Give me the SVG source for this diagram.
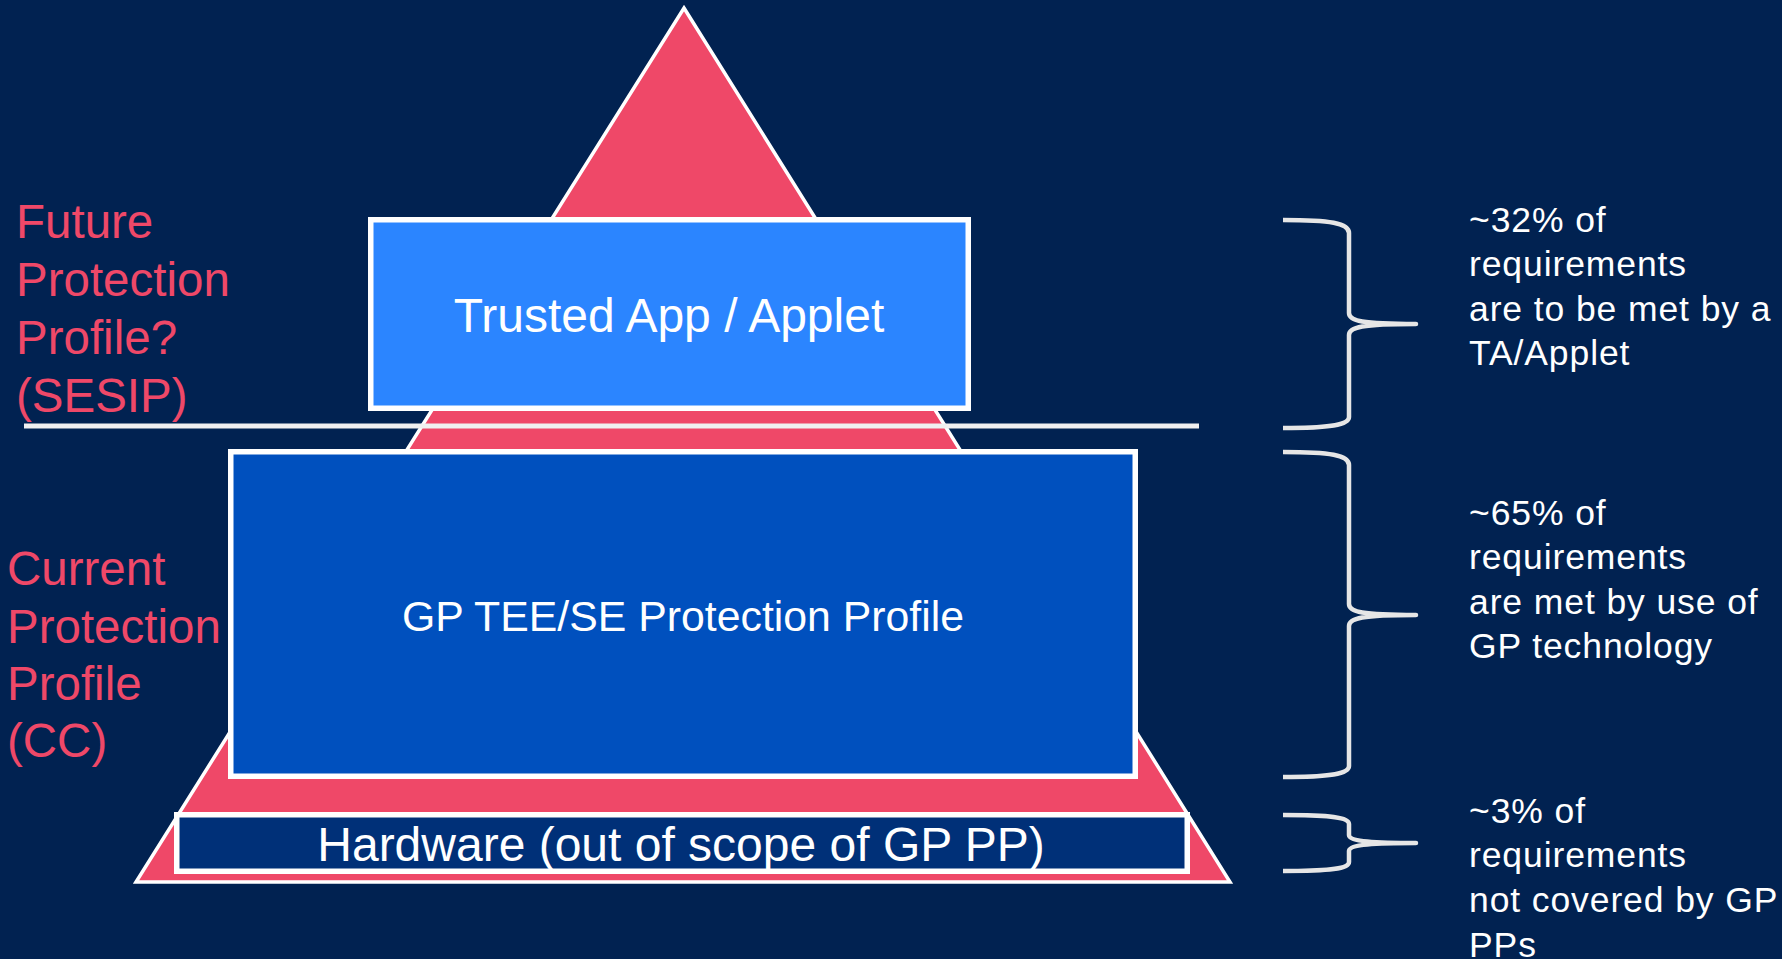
<svg xmlns="http://www.w3.org/2000/svg" width="1782" height="959" viewBox="0 0 1782 959">
<style>
.lbl{font-family:"Liberation Sans",Arial,sans-serif;font-size:47.5px;fill:#EF4868}
.box{stroke:#FFFFFF;stroke-width:5.5}
.btxt{font-family:"Liberation Sans",Arial,sans-serif;fill:#FFFFFF;text-anchor:middle}
.rt{font-family:"Liberation Sans",Arial,sans-serif;font-size:35.5px;letter-spacing:0.9px;fill:#FFFFFF}
.brace{fill:none;stroke:#E6E6E6;stroke-width:4.5;stroke-linejoin:round}
</style>
<rect x="0" y="0" width="1782" height="959" fill="#012251"/>
<g id="pyramid">
<polygon points="684,8 1230,882 136,882" fill="#EF4868" stroke="#FFFFFF" stroke-width="3.5"/>
</g>
<g id="divider">
<line x1="24" y1="426" x2="1199" y2="426" stroke="#F0F0F0" stroke-width="5"/>
</g>
<g id="ta">
<rect class="box" x="370.75" y="219.75" width="597.5" height="188.5" fill="#2B85FF"/>
<text class="btxt" x="669" y="332" font-size="48">Trusted App / Applet</text>
</g>
<g id="gp">
<rect class="box" x="230.75" y="451.75" width="904.5" height="324.5" fill="#0050BE"/>
<text class="btxt" x="683" y="631" font-size="42.8">GP TEE/SE Protection Profile</text>
</g>
<g id="hw">
<rect class="box" x="176.75" y="814.75" width="1010.5" height="56.5" fill="#003078"/>
<text class="btxt" x="681" y="861" font-size="48">Hardware (out of scope of GP PP)</text>
</g>
<g id="future-label">
<text class="lbl"><tspan x="16" y="238">Future</tspan><tspan x="16" y="296">Protection</tspan><tspan x="16" y="354">Profile?</tspan><tspan x="16" y="412">(SESIP)</tspan></text>
</g>
<g id="current-label">
<text class="lbl"><tspan x="7" y="585">Current</tspan><tspan x="7" y="643">Protection</tspan><tspan x="7" y="700">Profile</tspan><tspan x="7" y="757">(CC)</tspan></text>
</g>
<g id="braces">
<path class="brace" d="M1283,220 C1330,220 1349,223 1349,233 L1349,313 C1349,321 1362,324 1416,324 C1362,324 1349,327 1349,335 L1349,417 C1349,425 1330,428 1283,428"/>
<path class="brace" d="M1283,452 C1330,452 1349,455 1349,465 L1349,604 C1349,612 1362,615 1416,615 C1362,615 1349,618 1349,626 L1349,766 C1349,774 1330,777 1283,777"/>
<path class="brace" d="M1283,815 C1330,815 1349,817 1349,824 L1349,835 C1349,840 1362,843 1416,843 C1362,843 1349,846 1349,851 L1349,862 C1349,869 1330,871 1283,871"/>
</g>
<g id="note-ta">
<text class="rt"><tspan x="1469" y="232">~32% of</tspan><tspan x="1469" y="276">requirements</tspan><tspan x="1469" y="321">are to be met by a</tspan><tspan x="1469" y="365">TA/Applet</tspan></text>
</g>
<g id="note-gp">
<text class="rt"><tspan x="1469" y="525">~65% of</tspan><tspan x="1469" y="569">requirements</tspan><tspan x="1469" y="614">are met by use of</tspan><tspan x="1469" y="658">GP technology</tspan></text>
</g>
<g id="note-hw">
<text class="rt"><tspan x="1469" y="823">~3% of</tspan><tspan x="1469" y="867">requirements</tspan><tspan x="1469" y="912">not covered by GP</tspan><tspan x="1469" y="957">PPs</tspan></text>
</g>
</svg>
